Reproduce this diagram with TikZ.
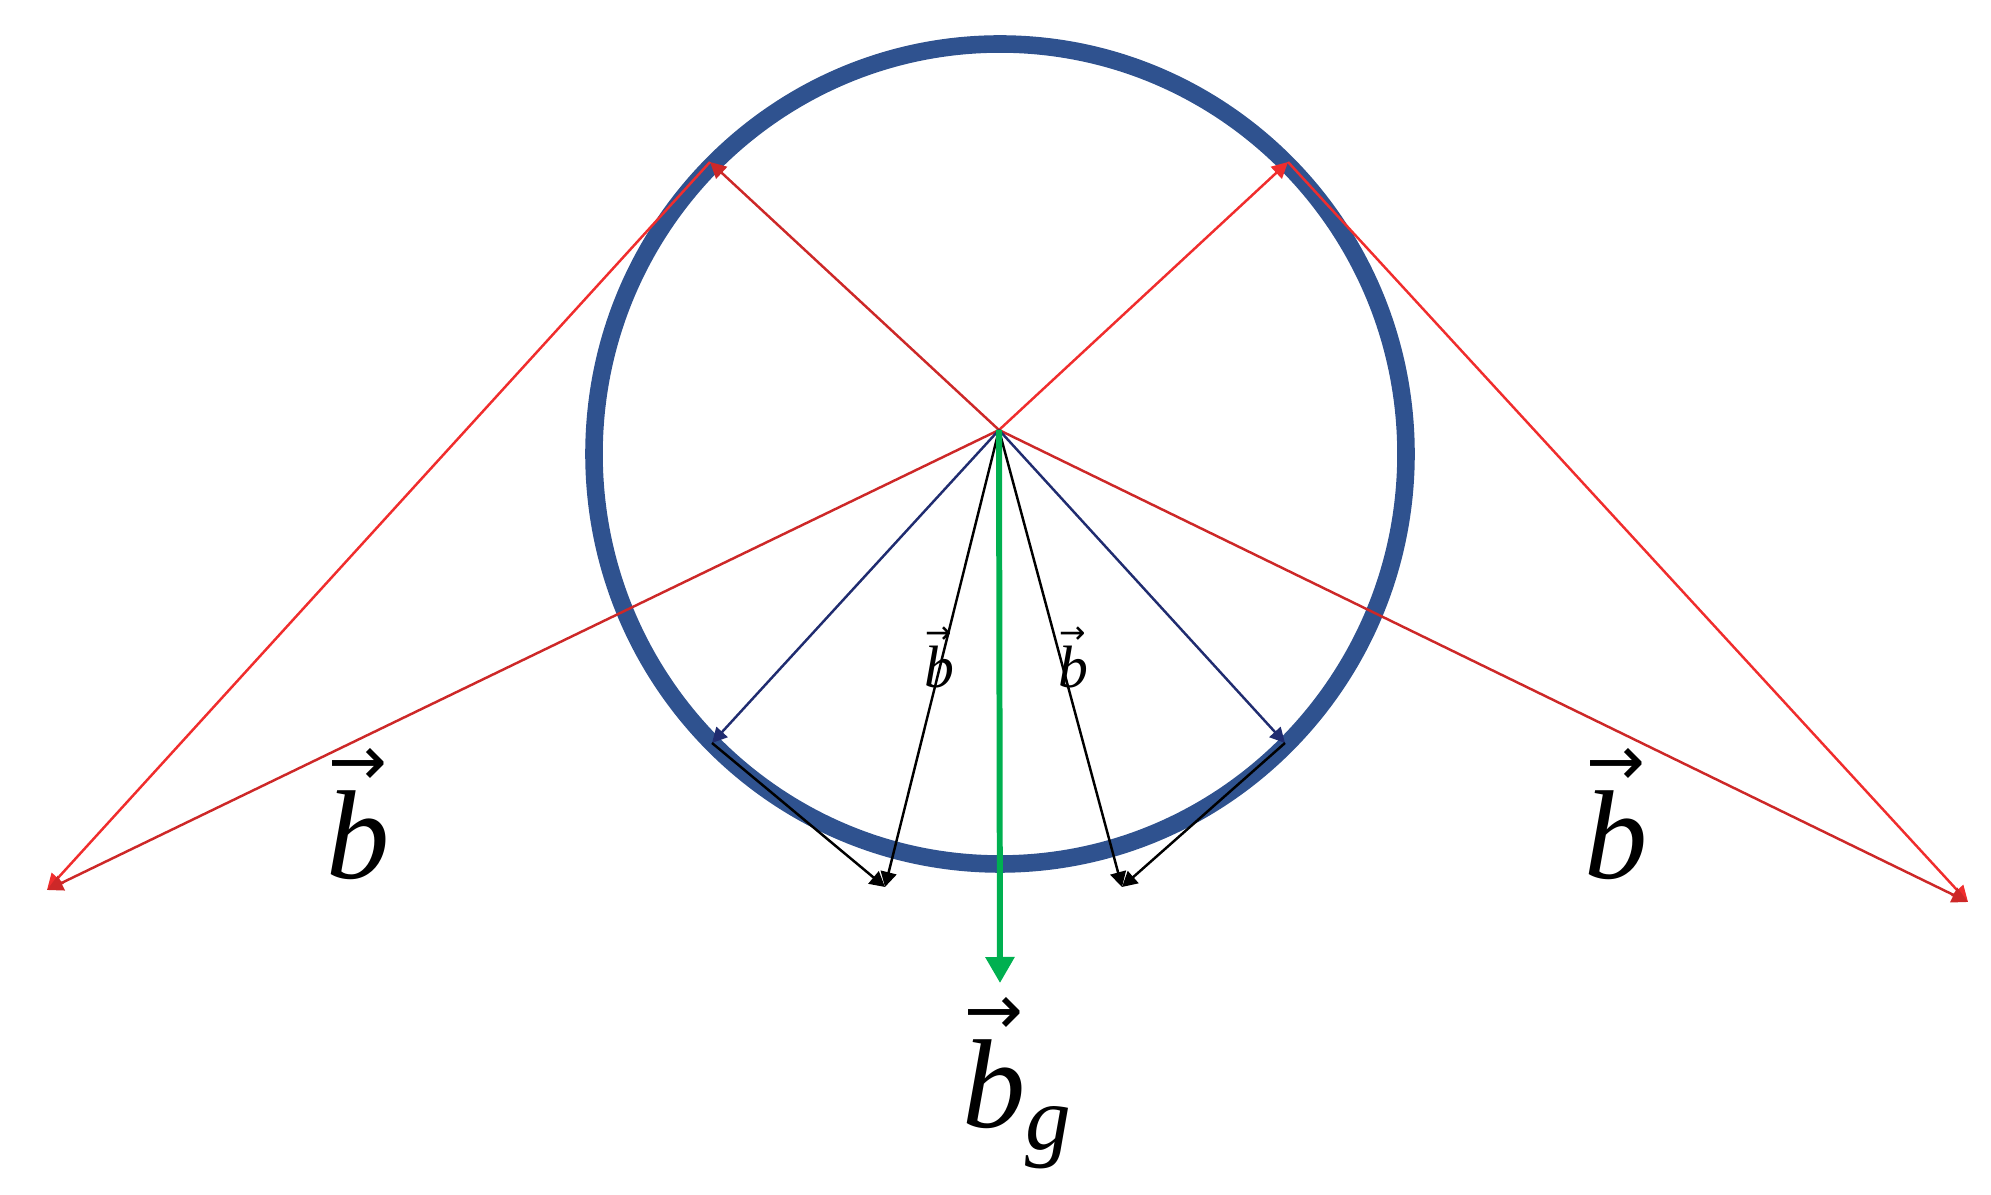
\RequirePackage{fix-cm}
\documentclass[tikz,border=0pt]{standalone}
\usepackage{amsmath,amssymb}
\usepackage{fontspec}
\setmainfont{Liberation Serif}
\newfontfamily\arrowfont{DejaVu Sans}
\usepackage{tikz}
\usetikzlibrary{arrows.meta}
\definecolor{ringblue}{RGB}{47,82,143}
\definecolor{vecred}{RGB}{240,45,45}
\definecolor{vecdarkred}{RGB}{205,40,40}
\definecolor{vecnavy}{RGB}{32,44,112}
\definecolor{vecgreen}{RGB}{0,176,80}
% b with an arrow: #1 size of b, #2 size of arrow, #3 gap
\newcommand{\arrowb}[3]{\vbox{\offinterlineskip\halign{\hfil##\hfil\cr
  {\fontsize{#2}{#2}\arrowfont →}\cr\noalign{\kern#3}
  {\fontsize{#1}{#1}\selectfont\itshape b}\cr}}}
\tikzset{
  redvec/.style={vecred,line width=0.7pt,-{Triangle[length=1.6mm,width=1.6mm]}},
  navyvec/.style={vecnavy,line width=0.7pt,-{Triangle[length=1.5mm,width=1.5mm]}},
  blackvec/.style={black,line width=0.7pt,-{Triangle[length=1.5mm,width=1.6mm]}},
  greenvec/.style={vecgreen,line width=1.7pt,-{Triangle[length=2.6mm,width=2.8mm]}},
  vlabel/.style={inner sep=0pt,anchor=base}
}
\begin{document}
\begin{tikzpicture}
 	\useasboundingbox (0,0) rectangle (19.91,11.95);
 	% ring
 	\draw[ringblue,line width=5pt] (10.00,7.41) ellipse [x radius=4.06,y radius=4.10];
 	% points
 	\coordinate (o)  at (9.99,7.65);
 	\coordinate (ul) at (7.10,10.33);
 	\coordinate (ur) at (12.88,10.33);
 	\coordinate (fl) at (0.47,3.05);
 	\coordinate (fr) at (19.68,2.93);
 	\coordinate (bl) at (7.12,4.52);
 	\coordinate (br) at (12.85,4.52);
 	\coordinate (kl) at (8.85,3.08);
 	\coordinate (kr) at (11.22,3.08);
 	\coordinate (g)  at (10.00,2.12);
 	\path[redvec]
 	(o) edge[vecdarkred] (ul)
 	(o) edge (ur)
 	(ul) edge (fl)
 	(ur) edge (fr)
 	(o) edge[vecdarkred] (fl)
 	(o) edge[vecdarkred] (fr);
 	\path[navyvec]
 	(o) edge (bl)
 	(o) edge (br);
 	\path[blackvec]
 	(bl) edge (kl)
 	(o) edge (kl)
 	(br) edge (kr)
 	(o) edge (kr);
 	\draw[greenvec] (o) -- (g);
 	% labels
 	\node[vlabel] (lbl-l) at (3.58,3.16) {\arrowb{36}{20}{1.5pt}};
 	\node[vlabel] (lbl-r) at (16.16,3.16) {\arrowb{36}{20}{1.5pt}};
 	\node[vlabel] (lbl-kl) at (9.39,5.07) {\arrowb{17}{9}{1pt}};
 	\node[vlabel] (lbl-kr) at (10.73,5.07) {\arrowb{17}{9}{1pt}};
 	\node[vlabel,anchor=base west] (lbl-g) at (9.62,0.67)
 	  {\arrowb{36}{20}{1.5pt}\raisebox{-6pt}{\fontsize{26}{26}\selectfont\itshape g}};
\end{tikzpicture}
\end{document}
